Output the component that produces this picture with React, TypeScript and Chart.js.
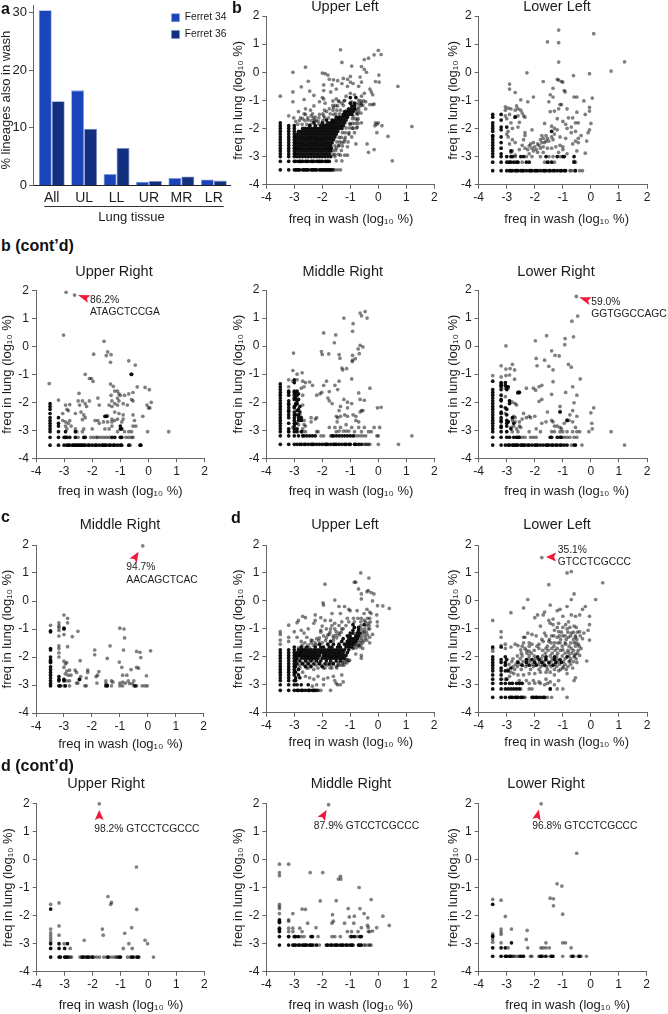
import { useEffect, useRef } from 'react';
import { Chart, registerables } from 'chart.js';

Chart.register(...registerables);

const FONT = '"Liberation Sans", Arial, sans-serif';
Chart.defaults.font.family = FONT;

// ---------- Panel a ----------
const tissueLabels = ['All', 'UL', 'LL', 'UR', 'MR', 'LR'];
const ferret34 = [30.4, 16.5, 2, 0.65, 1.3, 1.05];
const ferret36 = [14.6, 9.85, 6.5, 0.8, 1.55, 0.85];

// Data format: *Spots = [x, y] points; *Lines = [y, x, x, ...] light rows; *Dense = [y, x, x, ...] rows of overlapped lineages.
// ---------- b Upper Left ----------
const bUpperLeftSpots = [[-1.35,.8],[0,.78],[.1,.63],[-.15,.62],[-.35,.5],[-.5,.45],[-1.3,.35],[-.95,.22],[-.6,.2],[-.5,.1],[-.42,0],[-2.6,.18],[-3.05,0],[-2,-.03],[-1.9,-.05],[-1.8,-.1],[.02,-.1],[-1,-.15],[-.65,-.17],[-2.5,-.32],[-1.75,-.25],[-1.6,-.27],[-1.45,-.3],[-1.25,-.22],[-1.1,-.25],[-.1,-.33],[.03,-.35],[-.6,-.35],[-2.75,-.52],[-1.95,-.45],[-1.65,-.45],[-1.3,-.4],[-1,-.35],[-.9,-.4],[.7,-.5],[-3.05,-.7],[-2.45,-.67],[-1.95,-.65],[-1.7,-.7],[-1.5,-.6],[-1.1,-.5],[-.7,-.5],[-.3,-.6],[-.25,-.7],[-2.3,-.82],[-2,-.9],[-1.95,-.95],[-2.65,-.97],[-3.05,-1.05],[-1.5,-.95],[-.85,-.8],[-.6,-.85],[-.5,-.75],[-.2,-.8],[-3.5,-.85],[-2.6,-1.3],[-2.3,-1.2],[-2.1,-1.05],[-1.9,-1.1],[-1.4,-1.05],[-1.3,-1.1],[-.7,-1],[-.45,-1.05],[-.3,-1.15],[-.2,-1.15],[-.15,-1.13],[-3.2,-1.55],[-2.85,-1.4],[-2.6,-1.5],[-2.4,-1.55],[-1.75,-1.3],[-1.6,-1.25],[-2.1,-1.5],[-.8,-1.3],[-.7,-1.25],[-.45,-1.3],[-.1,-1.8],[-.05,-1.85],[0,-1.8],[-.12,-1.9],[.13,-1.9],[1.2,-1.93],[-.05,-2.15],[.35,-2.28],[-.95,-2.3],[-.4,-2.55],[-1.1,-2.65],[-.8,-2.55],[-.35,-2.85],[-.15,-2.75],[.5,-3.15],[-1.35,-2.95],[-1.2,-2.95],[-1.1,-2.95],[-1.3,-3.15],[-1.55,-3],[-1.5,-3.15],[-.9,-2],[-.75,-1.95],[-.6,-1.8],[-.75,-1.7],[-1,-1.85],[-1.2,-2.4],[-1.3,-2.5],[-1.4,-2.6],[-1.5,-2.7],[-1.05,-2.2],[-2.95,-1.75],[-2.7,-1.65],[-2.5,-1.7],[-2.25,-1.6],[-2.15,-1.75],[-1.95,-1.55],[-1.85,-1.4],[-1.6,-1.5],[-1.45,-1.2],[-1.2,-1],[-1.15,-.85],[-1,-.75],[-.95,-1.05],[-.6,-1.1],[-.75,-1.5],[-.9,-1.55],[-.7,-1.35]];
const bUpperLeftLines = [[-3.47,-1.6,-1.55,-1.45,-1.35],[-1.85,-2.88,-2.72,-2.55,-2.42,-2.12,-1.88],[-1.72,-2.82,-2.62,-2.38,-2.28,-2.22,-1.98,-1.62],[-1.62,-3.02,-2.78,-2.52,-2.32,-2.12,-1.92,-1.78,-1.42],[-1.48,-2.65,-2.35,-1.98,-1.72,-1.52,-1.38,-1.22],[-1.35,-2.42,-1.92,-1.62,-1.48,-1.35,-1.12,-.82],[-1.18,-1.62,-1.52,-1.25,-.62,-.55],[-1.02,-1.62,-1.42,-1.22,-.62,-.52],[-2.92,-1.62,-1.55,-1.42],[-2.78,-1.62,-1.52,-1.32],[-2.62,-1.55,-1.42,-1.28],[-2.48,-1.48,-1.38,-1.22,-1.08],[-2.32,-1.4,-1.32,-1.18],[-2.15,-1.28,-1.18,-1.05,-.85],[-1.98,-1.15,-1.02,-.92,-.78],[-1.82,-1.02,-.92,-.82,-.72],[-1.65,-.92,-.82,-.72],[-1.45,-.78,-.72,-.62],[-1.12,-.75,-.65]];
const bUpperLeftDense = [[-3.47,-3.5,-3.2,-3,-2.95,-2.9,-2.85,-2.8,-2.7,-2.65,-2.6,-2.55,-2.5,-2.4,-2.35,-2.3,-2.25,-2.2,-2.1,-2.05,-2,-1.95,-1.9,-1.85,-1.8,-1.75,-1.7,-1.65],[-3.17,-3.5,-3.2,-3,-2.95,-2.85,-2.8,-2.75,-2.7,-2.6,-2.55,-2.5,-2.4,-2.35,-2.3,-2.2,-2.15,-2.1,-2.05,-2,-1.9,-1.85,-1.8,-1.75],[-3,-3.5,-3.2,-3,-2.9,-2.8,-2.7,-2.6,-2.5,-2.4,-2.3,-2.2,-2.1,-2,-1.9,-1.8,-1.7],[-2.9,-3.5,-3.2,-3,-2.95,-2.85,-2.75,-2.65,-2.55,-2.45,-2.35,-2.25,-2.15,-2.05,-1.95,-1.85,-1.75],[-2.8,-3.5,-3.2,-3,-2.9,-2.8,-2.7,-2.6,-2.5,-2.4,-2.3,-2.2,-2.1,-2,-1.9,-1.8,-1.7],[-2.7,-3.5,-3.2,-3,-2.95,-2.85,-2.75,-2.65,-2.55,-2.45,-2.35,-2.25,-2.15,-2.05,-1.95,-1.85,-1.75,-1.68],[-2.6,-3.5,-3.2,-3,-2.9,-2.8,-2.7,-2.6,-2.5,-2.4,-2.3,-2.2,-2.1,-2,-1.9,-1.8,-1.7],[-2.5,-3.5,-3.2,-3,-2.95,-2.85,-2.75,-2.65,-2.55,-2.45,-2.35,-2.25,-2.15,-2.05,-1.95,-1.85,-1.75,-1.65],[-2.4,-3.5,-3.2,-3,-2.9,-2.8,-2.7,-2.6,-2.5,-2.4,-2.3,-2.2,-2.1,-2,-1.9,-1.8,-1.7,-1.6],[-2.3,-3.5,-3.2,-3,-2.95,-2.85,-2.75,-2.65,-2.55,-2.45,-2.35,-2.25,-2.15,-2.05,-1.95,-1.85,-1.75,-1.65,-1.55],[-2.2,-3.5,-3.2,-3,-2.9,-2.8,-2.7,-2.6,-2.5,-2.4,-2.3,-2.2,-2.1,-2,-1.9,-1.8,-1.7,-1.6,-1.5],[-2.1,-3.5,-3.2,-3,-2.85,-2.75,-2.65,-2.55,-2.45,-2.35,-2.25,-2.15,-2.05,-1.95,-1.85,-1.75,-1.65,-1.55,-1.45],[-2,-3.5,-3.2,-3,-2.7,-2.6,-2.5,-2.4,-2.3,-2.2,-2.1,-2,-1.9,-1.8,-1.7,-1.6,-1.5,-1.4,-1.3],[-1.9,-3.5,-3.2,-3,-2.45,-2.25,-2.05,-1.95,-1.85,-1.75,-1.65,-1.55,-1.45,-1.35,-1.25],[-1.8,-3.5,-2.3,-2,-1.8,-1.7,-1.6,-1.5,-1.4,-1.3,-1.2],[-1.7,-1.85,-1.65,-1.55,-1.45,-1.35,-1.25,-1.15],[-1.6,-1.5,-1.4,-1.3,-1.2,-1.1],[-1.5,-1.25,-1.15,-1.05,-.95],[-1.4,-1.2,-1.1,-1,-.9],[-1.3,-1.05,-.95,-.85],[-1.2,-.95,-.85],[-1.1,-1,-.85],[-.9,-1,-.8]];

// ---------- b Lower Left ----------
const bLowerLeftSpots = [[-1.15,1.5],[-1.55,1.08],[-1.15,1.05],[.1,1.37],[1.2,.37],[.72,.04],[-1.15,.36],[-.05,-.05],[-2.28,-.02],[-.62,-.12],[-1.2,-.25],[-1.15,-.28],[-1.05,-.33],[-1,-.35],[-1.7,-.33],[-2.9,-.42],[-2.9,-.6],[-2.7,-.72],[-1.35,-.57],[-.95,-.65],[-.92,-.7],[-1.45,-.8],[-1.35,-.88],[-2.05,-.88],[-2.5,-.98],[-2.25,-1.05],[-1.5,-1.05],[-.6,-.88],[-.5,-.88],[.05,-.92],[-.25,-1.02],[-1.1,-1.15],[-2.65,-1.2],[-3.05,-1.23],[-2.95,-1.28],[-2.85,-1.3],[-3.05,-1.35],[-2.7,-1.35],[-2.6,-1.3],[-2.5,-1.35],[-1.45,-1.4],[-1.3,-1.38],[-1.15,-1.3],[-1.05,-1.15],[-.85,-1.3],[-.5,-1.42],[-.05,-1.25],[-.05,-1.38],[-.2,-1.5],[-3.05,-1.55],[-2.9,-1.5],[-2.7,-1.58],[-2.6,-1.55],[-2.45,-1.45],[-2.4,-1.55],[-3,-1.65],[-2.35,-1.6],[-.8,-1.62],[-.65,-1.62],[-.55,-1.8],[-.45,-1.8],[0,-1.82],[-.9,-1.85],[-1.65,-1.82],[-1.2,-1.65],[-1,-1.75],[-1.4,-1.92],[-1.3,-2],[-1.2,-2.05],[-.85,-2],[-.7,-1.95],[-.05,-2.05],[-.1,-2.15],[-2.55,-1.78],[-2.85,-1.8],[-2.6,-1.95],[-2.8,-2],[-2.1,-2.05],[-2.35,-2.15],[-2.95,-2.1],[-3,-2.2],[-2.95,-2.3],[-2.8,-2.4],[-2.7,-2.5],[-2.9,-2.55],[-2.35,-2.25],[-2.4,-2.4],[-2.45,-2.6],[-2.35,-2.7],[-2.25,-2.75],[-2.15,-2.55],[-2.05,-2.5],[-2,-2.65],[-1.95,-2.75],[-1.85,-2.6],[-1.8,-2.4],[-1.75,-2.25],[-1.7,-2.35],[-1.65,-2.5],[-1.6,-2.25],[-1.55,-2.35],[-1.5,-2.45],[-1.4,-2.3],[-1.35,-2.4],[-1.3,-2.2],[-1.1,-2.3],[-1.25,-2.65],[-1.4,-2.7],[-1.55,-2.7],[-1.1,-2.6],[-1,-2.65],[-1.15,-2.85],[-1,-2.75],[-.9,-2.35],[-.85,-2.9],[-.7,-2.15],[-.55,-2.1],[-.45,-2.5],[-.35,-2.25],[-.45,-2.35],[-.55,-2.45],[-.2,-2.88],[-.15,-2.45],[-.65,-2.55],[-.5,-2.8],[-.6,-3.17],[-.6,-3.5],[-.4,-3.5],[-.3,-3.5],[-2.85,-2.85],[-2.8,-2.8],[-2.7,-2.95],[-2.55,-2.75],[-2.2,-2.9],[-2.05,-2.8],[-1.9,-2.85],[-1.7,-2.85],[-1.5,-3],[-2.2,-2.62],[-2.1,-2.7],[-1.9,-2.55],[-1.75,-2.5],[-1.7,-2.65],[-1.6,-2.45],[-1.8,-2.7]];
const bLowerLeftLines = [[-3.5,-.75,-.7],[-3.2,-2.95,-2.45,-1.65,-1.5,-1.3,-.55],[-3,-2.7,-2.3,-2.1,-1.8,-1.35,-1.1]];
const bLowerLeftDense = [[-3.5,-3.5,-3.2,-3,-2.9,-2.85,-2.8,-2.7,-2.65,-2.6,-2.5,-2.45,-2.4,-2.3,-2.2,-2.15,-2.1,-2,-1.95,-1.9,-1.8,-1.7,-1.65,-1.6,-1.5,-1.45,-1.35,-1.3,-1.2,-1.1,-1.05,-.95,-.9,-.55],[-3.2,-3.5,-3.2,-3,-2.9,-2.85,-2.75,-2.65,-2.6,-2.3,-2.2,-1.55,-1.4,-.6],[-3,-3.5,-3.2,-3,-2.85,-2.8,-2.5,-2.4,-1.6,-1.2,-1,-.95,-.6],[-2.9,-3.5,-3.2],[-2.8,-3.5,-2.85],[-2.7,-3.5,-3.2],[-2.6,-3.5],[-2.5,-3.5,-3.2],[-2.4,-3.5],[-2.3,-3.5,-3.2],[-2.25,-3.5],[-2.1,-3.5,-1.4],[-2.05,-3.2],[-2,-3.5],[-1.95,-3.2,-3],[-1.9,-3.5],[-1.8,-3.5],[-1.7,-3.2],[-1.6,-3.5,-2.7],[-1.5,-3.5,-3.2]];

// ---------- b (cont'd) Upper Right ----------
const bUpperRightSpots = [[-2.93,1.93],[-2.63,1.83],[-3.02,.4],[-1.58,.18],[-1.45,-.2],[-1.5,-.33],[-1.33,-.3],[-1.95,-.28],[-1.35,-.57],[-.7,-.52],[-.47,-.67],[-.6,-1],[-.62,-1],[-2.25,-1],[-2.1,-1.15],[-2.03,-1.15],[-1.97,-1.25],[-3.53,-1.33],[-1.35,-1.35],[-1.25,-1.43],[-.4,-1.45],[-.12,-1.47],[.03,-1.55],[-.55,-1.65],[-1.2,-1.6],[-1.1,-1.6],[-1.05,-1.7],[-.7,-1.7],[-2.47,-1.68],[-1.33,-1.75],[-1,-1.75],[-.85,-1.75],[-3.2,-1.92],[-1.8,-1.85],[-2.5,-1.95],[-2.35,-1.95],[-2.1,-1.95],[-1.1,-1.85],[-1.05,-1.95],[-.6,-1.9],[-.55,-1.95],[-1.3,-1.95],[.1,-2],[-2.95,-2.1],[-2.8,-2.08],[-2.45,-2.1],[-2.25,-2.05],[-2.2,-2.15],[-1.75,-2.1],[-1.4,-2.1],[-1.3,-2.15],[-1.2,-2.05],[-1.1,-2.1],[-.9,-2.05],[-.75,-2.1],[-.05,-2.1],[0,-2.2],[.05,-2.2],[-2.9,-2.25],[-2.85,-2.3],[-3.05,-2.4],[-2.6,-2.4],[-2.4,-2.35],[-2.3,-2.45],[-1.5,-2.5],[-1.45,-2.48],[-1.2,-2.35],[-1.05,-2.4],[-.9,-2.45],[-.55,-2.45],[-.2,-2.5],[-2.35,-2.62],[-2.25,-2.55],[-1.9,-2.65],[-1.8,-2.65],[-1.3,-2.6],[-1.2,-2.65],[-1.1,-2.6],[-.9,-2.6],[-3.05,-2.65],[-2.95,-2.7],[-2.85,-2.75],[-2.8,-2.65],[-1.75,-2.75],[-1.6,-2.7],[-1.45,-2.7],[-1.3,-2.7],[-.95,-2.7],[-.5,-2.65],[-2.95,-2.85],[-2.9,-2.95],[-2.75,-2.85],[-2.6,-2.95],[-2.3,-2.95],[-2,-2.95],[-1.55,-2.95],[-1.4,-2.95],[-1.3,-2.85],[-.55,-2.85],[-.45,-2.85],[-1.1,-3.05],[-.85,-3.05],[-.7,-3.05],[.72,-3.05],[-.6,-3.05],[-.03,-3.05],[-2.55,-3.05],[-2.35,-3.05]];
const bUpperRightLines = [[-3.25,-2.5,-2.05,-1.95,-1.85,-1.8,-1.7,-1.6,-1.5,-1.4,-.8,-.7,-.6,-.55],[-3.53,-.65]];
const bUpperRightDense = [[-3.53,-3.5,-3.2,-3,-2.9,-2.85,-2.8,-2.7,-2.65,-2.6,-2.55,-2.5,-2.45,-2.4,-2.35,-2.3,-2.25,-2.15,-2.1,-2,-1.9,-1.85,-1.75,-1.65,-1.6,-1.55,-1.5,-1.4,-1.35,-1.25,-1.2,-1.1,-1,-.95,-.7,-.3,-.27],[-3.25,-3.5,-3.2,-3,-2.95,-2.9,-2.8,-2.6,-2.3,-2.25,-1.3,-1.2,-1,-.95],[-3.05,-3.5,-3.2,-2.95,-2.6],[-2.95,-3.5,-1,-.95],[-2.85,-3.5,-3.2,-1],[-2.75,-3.5,-3.2],[-2.65,-3.5],[-2.55,-3.5,-3.2],[-2.4,-3.5],[-2.25,-3.5],[-2.15,-3.5],[-2.05,-3.5],[-2.5,-1.55,-1.5],[-1,-.6]];

// ---------- b (cont'd) Middle Right ----------
const bMiddleRightSpots = [[-.65,1.18],[-.6,1.08],[-.47,1.23],[-.4,1],[-1.23,1],[-.9,.8],[-.92,.53],[-1.95,.47],[-1.52,.4],[-1.57,.12],[-.65,.03],[-.55,-.03],[-.72,-.1],[-2.03,-.2],[-2,-.3],[-1.77,-.28],[-.68,-.27],[-1.4,-.3],[-1.37,-.43],[-.92,-.33],[-.82,-.45],[-.92,-.5],[-.93,-.55],[-3.03,-.25],[-1.3,-.78],[-1.27,-.85],[-1.13,-.8],[-3.05,-.87],[-2.72,-.95],[-2.9,-1],[-.95,-1.17],[-3.2,-1.2],[-3.05,-1.25],[-2.9,-1.2],[-2.7,-1.25],[-2.6,-1.3],[-2.45,-1.28],[-2.35,-1.4],[-1.85,-1.25],[-1.95,-1.4],[-1.55,-1.4],[-1.4,-1.25],[-.3,-1.5],[-1.45,-1.55],[-1.75,-1.62],[-2.02,-1.65],[-2.08,-1.7],[-2.2,-1.75],[-.7,-1.67],[-3.2,-1.45],[-2.75,-1.5],[-2.65,-1.45],[-2.7,-1.75],[-1.8,-1.85],[-1.75,-1.95],[-1.65,-2.05],[-1.23,-1.9],[-1.1,-2],[-1.1,-2.2],[-.95,-2.05],[-.65,-1.9],[-.5,-1.93],[-1.35,-2.15],[-1.4,-2.3],[-2.7,-2.1],[.1,-2.18],[-.03,-2.2],[-.6,-2.3],[-.55,-2.3],[-.65,-2.35],[-1.5,-2.5],[-1.45,-2.55],[-1.35,-2.5],[-1.2,-2.45],[-1.1,-2.5],[-.9,-2.45],[-.8,-2.5],[-2.4,-2.55],[-2.25,-2.6],[-2.2,-2.55],[-2.4,-2.7],[-1.47,-2.7],[-.8,-2.65],[-.7,-2.7],[-1.55,-2.9],[-1.75,-2.9],[-1.35,-2.9],[-1.15,-2.8],[-.95,-2.9],[-.7,-2.9],[-.5,-2.9],[-.15,-2.9],[.05,-2.9],[-2.2,-3.05],[-2.15,-3.05],[-1.5,-3.05],[-1.4,-3.03],[-1.25,-3.03],[-1.15,-3.03],[-1.05,-3.03],[-.85,-3.05],[-.6,-3.05],[-.35,-3.05],[-.25,-3.05],[-.05,-3.2],[0,-3.2],[1.2,-3.2],[.72,-3.5],[0,-3.5],[-.45,-3.2],[-1.95,-3.2],[-.3,-3.5],[-.35,-3.5],[-2.9,-2.75],[-2.85,-2.8],[-2.7,-2.95],[-2.6,-2.85],[-2.65,-2.65],[-2.8,-2.45],[-3.05,-2.9],[-3.2,-3.05],[-2.7,-3.05],[-2.6,-3.05],[-2.65,-2.8]];
const bMiddleRightLines = [[-3.2,-2.05,-1.7,-.85,-.75,-.65,-.55],[-3.5,-.5,-.45,-.4]];
const bMiddleRightDense = [[-3.5,-3.5,-3.2,-3,-2.9,-2.8,-2.75,-2.65,-2.6,-2.5,-2.4,-2.35,-2.3,-2.2,-2.1,-2,-1.9,-1.85,-1.8,-1.7,-1.6,-1.55,-1.5,-1.4,-1.3,-1.2,-1.15,-1.05,-1,-.85,-.8,-.7,-.6],[-3.2,-3.5,-3.2,-3,-2.85,-2.7,-2.65,-2.55,-2.45,-2.35,-2.25,-1.65,-1.6,-1.5,-1.4,-1.3,-1.2,-1.1,-1,-.9],[-3.05,-3.5,-3.2,-3,-2.9,-2.75],[-2.95,-3.5,-3.2,-3,-2.9],[-2.85,-3.5,-3],[-2.75,-3.5,-3.2,-3,-2.95],[-2.65,-3.5,-3,-2.85,-2.75],[-2.55,-3.5,-3.2,-3,-2.85,-2.75],[-2.45,-3.5,-3.2,-3,-2.95,-2.85],[-2.35,-3.5,-3.2,-3,-2.8],[-2.3,-3.2,-2.9],[-2.25,-3.5,-2.85],[-2.2,-3.2,-3],[-2.15,-3.5,-3,-2.8],[-2.1,-3.2,-2.95],[-2.05,-3.5,-3.2,-2.95,-2.9],[-1.95,-3.5,-3.2,-2.9],[-1.9,-3,-2.85],[-1.85,-3.5,-3,-2.95],[-1.75,-3.5,-3.2,-3,-2.9],[-1.7,-2.85],[-1.65,-3.5,-3.2,-3,-2.95],[-1.6,-3.2,-3,-2.9],[-1.55,-3.5],[-1.45,-3.5],[-1.35,-3.5],[-1.3,-3],[-1.2,-3]];

// ---------- b (cont'd) Lower Right ----------
const bLowerRightSpots = [[-.52,1.77],[-.47,1.07],[-.68,.89],[-.62,.33],[-.92,.27],[-.93,.05],[-1.98,.19],[-1.58,.37],[-3.03,.01],[-1.4,-.17],[-1.28,-.33],[-1.13,-.35],[-1.95,-.44],[-1.65,-.5],[-1.5,-.72],[-1.35,-.85],[-.8,-.65],[-.7,-.75],[-1.92,-.7],[-3.2,-.7],[-3.03,-.82],[-2.88,-.8],[-2.8,-.65],[-2.72,-.85],[-.38,-1.17],[-1.35,-1.27],[-3.5,-1.05],[-3.03,-1.05],[-2.9,-1.03],[-2.72,-1.18],[-3.2,-1.1],[-2.3,-1.5],[-2.05,-1.5],[-1.97,-1.57],[-1.85,-1.45],[-1.75,-1.4],[-.65,-1.45],[-3.05,-1.5],[-2.95,-1.5],[-2.55,-1.65],[-2.6,-1.68],[-1.4,-1.72],[-.9,-1.65],[-.5,-1.75],[-1.85,-1.97],[-1.75,-1.9],[-3.05,-1.8],[-2.9,-1.95],[-2.8,-2],[-2.7,-2.05],[-2.65,-2.1],[-1.1,-2.15],[-.6,-2.02],[.1,-2.2],[0,-2.38],[-.65,-2.3],[-1.55,-2.35],[-1.1,-2.33],[-2.4,-2.4],[-2.2,-2.5],[-2.15,-2.55],[-2,-2.5],[-2.3,-2.55],[-2.55,-2.7],[-2.45,-2.6],[-2.75,-2.5],[-2.7,-2.55],[-3.05,-2.4],[-.75,-2.45],[-.5,-2.5],[-1.4,-2.65],[-1.35,-2.7],[-1.6,-2.7],[-1.75,-2.75],[-1.3,-2.85],[-1.2,-2.85],[-1.1,-2.9],[-1.05,-2.95],[-.95,-2.75],[-.85,-2.65],[-.78,-2.65],[-.65,-2.7],[-.55,-2.9],[-2.95,-2.7],[-2.8,-2.65],[-2.7,-2.7],[-2.55,-2.85],[-2.5,-2.9],[-2.2,-3.05],[-1.95,-2.95],[-1.8,-3.05],[-1.4,-3.05],[-1.3,-3.05],[-1.1,-3.05],[-1,-3.05],[-.85,-3.05],[-.65,-3.05],[-.5,-3.05],[-.4,-3.05],[-.07,-3.05],[.05,-2.95],[.03,-2.75],[.72,-3.05],[1.2,-3.53],[-.32,-3.53],[-.6,-3.25],[-2.85,-2.9],[-2.75,-2.85],[-2.65,-2.95],[-2.6,-3.05],[-2.8,-3.05]];
const bLowerRightLines = [[-3.25,-2.45,-2.35,-2.15,-2.05,-1.95,-.95,-.85,-.75,-.5],[-3.53,-.7]];
const bLowerRightDense = [[-3.53,-3.5,-3.2,-3.05,-2.95,-2.9,-2.8,-2.75,-2.7,-2.65,-2.6,-2.5,-2.45,-2.4,-2.35,-2.25,-2.2,-2.1,-2,-1.95,-1.9,-1.8,-1.7,-1.6,-1.55,-1.5,-1.4,-1.35,-1.25,-1.2,-1.1,-1.05,-.95,-.85,-.6,-.55],[-3.25,-3.5,-3.2,-3,-2.9,-2.75,-2.65,-2.6,-2.55,-1.45,-1.4,-1.2,-1.1,-1.05],[-3.05,-3.5,-3.2,-3],[-2.95,-3.5,-2.85],[-2.9,-3.2],[-2.85,-3.5,-3.2,-3],[-2.75,-3.5,-3,-2.75],[-2.7,-3.2,-2.95],[-2.65,-3.5,-3.2,-3],[-2.55,-3.5,-3.2,-2.8],[-2.45,-3.5,-3],[-2.4,-3.2],[-2.35,-3.5,-3.2],[-2.25,-3.5,-3],[-2.2,-3.05],[-2.15,-3.5,-3.2],[-2.05,-3.5,-2.9],[-1.95,-3.5,-3.2,-2.9],[-1.9,-3.2],[-1.85,-3.5],[-1.75,-3.5,-3.2],[-1.65,-3.5,-2.6,-2.55],[-1.55,-3.5,-3.2,-3],[-1.45,-3.2,-3,-2.95],[-1.4,-3.2,-3.05],[-1.35,-3.2],[-1.3,-3.2,-3.05],[-1.25,-3.5],[-2.35,-1.1],[-2.65,-.85]];

// ---------- c Middle Right ----------
const cMiddleRightSpots = [[-.18,1.97],[-3,-.5],[-2.87,-.62],[-2.87,-.78],[-3.18,-.78],[-3.18,-.88],[-3.48,-.87],[-3.18,-.95],[-3.18,-1.05],[-2.5,-1.08],[-1,-.97],[-.85,-1],[-.83,-1.32],[-3,-1.2],[-3.18,-1.25],[-2.7,-1.27],[-1.35,-1.6],[-2.87,-1.63],[-3.18,-1.6],[-3.18,-1.7],[-3.18,-1.85],[-3.18,-2],[-1.9,-1.75],[-1.9,-1.92],[-.87,-1.75],[-.4,-1.8],[-.28,-1.83],[.1,-1.78],[-.25,-2.02],[-1.45,-2.05],[-2.42,-2.13],[-3,-2.15],[-2.95,-2.25],[-2.9,-2.2],[-1.02,-2.18],[-.93,-2.37],[-.4,-2.37],[-.33,-2.4],[-.6,-2.45],[-3,-2.37],[-2.9,-2.5],[-2.8,-2.47],[-2.6,-2.47],[-2.55,-2.55],[-2.15,-2.47],[-2.15,-2.55],[-1.75,-2.52],[-1.8,-2.65],[-1.85,-2.7],[-.9,-2.65],[-.75,-2.65],[-.05,-2.67],[-2.95,-2.6],[-2.85,-2.65],[-2.75,-2.65],[-2.4,-2.7],[-2.43,-2.8],[-2.2,-2.75],[-1.5,-2.85],[-1.3,-2.85],[-1.25,-2.9],[-2.9,-2.85],[-2.8,-2.85],[-2.55,-2.93],[-2.5,-2.93],[-1.82,-2.93],[-1.5,-2.95],[-1.45,-3],[-1,-2.93],[-.9,-2.9],[-.8,-2.93],[-.7,-2.85],[-.65,-2.95],[-.5,-2.85],[-.55,-2.95]];
const cMiddleRightLines = [[-3.03,-3,-2.8,-2.25,-2.2,-1.3,-1,-.9,-.5,-.4,-.2,-.1,-.02]];
const cMiddleRightDense = [[-3.03,-3.48,-3.18,-3.13,-2.95,-1.5,-1.45,-.45],[-2.95,-3.48],[-2.85,-3.48,-3.18,-3],[-2.75,-3.48],[-2.8,-3.18,-3,-2.45],[-2.65,-3.48],[-2.7,-3.18],[-2.55,-3.48],[-2.45,-3.48],[-2.35,-3.48],[-2.2,-3.48],[-2.15,-3.48],[-2.1,-3.48],[-2,-3.48],[-1.75,-3.48],[-1.7,-3.48],[-1.1,-3.48],[-1.07,-3.48],[-1,-3],[-.97,-3]];

// ---------- d Upper Left ----------
const dUpperLeftSpots = [[-.62,1],[-.33,.82],[-.85,.67],[-.8,.67],[-1.9,.6],[-.7,.43],[-.6,.25],[-.4,.33],[-.35,.37],[-.25,.3],[-.15,.25],[-1.55,.03],[-.2,0],[-.6,.07],[-1.97,-.07],[-1.95,-.15],[-1.4,-.2],[-1.2,-.2],[-.02,-.17],[.4,-.27],[.17,-.18],[-1.05,-.3],[-1,-.35],[-.75,-.35],[-.4,-.3],[-.3,-.4],[-.25,-.45],[-.5,-.45],[-1.35,-.45],[-1.65,-.45],[-2.25,-.5],[-2.05,-.6],[-1.9,-.7],[-1.7,-.7],[-2.7,-.55],[-2.85,-.7],[-2.9,-.78],[-2.6,-.6],[-3.2,-.87],[-2.25,-.7],[-1.55,-.8],[-1.3,-.75],[-.05,-.5],[-.03,-.75],[-2.3,-.8],[-2,-.9],[-1.85,-1],[-1.7,-1],[-.03,-.9],[-2.05,-1.05],[-1.5,-1.1],[-.3,-1],[-.2,-1.2],[-.3,-1.3],[-.3,-1.5],[-.4,-1.4],[-3,-1.1],[-2.5,-1],[-2.65,-1.15],[-2.75,-1.05],[-2.55,-1.3],[-2.75,-1.45],[-2.9,-1.3],[-2.4,-1.4],[-2.2,-1.35],[-1.95,-1.25],[-1.6,-1.25],[-3.2,-1.3],[-3.2,-1.45],[-3.5,-1.1],[-3.5,-1.2],[-3.5,-1.4],[-3.5,-1.55],[-.6,-1.95],[-.6,-2.05],[-.8,-1.9],[-.9,-1.7],[-.65,-1.65],[-.55,-1.7],[-1.1,-2.1],[-1.05,-2.15],[-1.2,-2.2],[-1.3,-2.3],[-1.4,-2.3],[-1.5,-2.35],[-1.65,-2.4],[-1.9,-2.4],[-2.3,-2.45],[-2.5,-2.4],[-2.8,-2.4],[-2.7,-2.55],[-2.6,-2.7],[-2.45,-2.75],[-2.3,-2.8],[-2.15,-2.7],[-1.95,-2.8],[-1.8,-2.75],[-1.6,-2.7],[-1.55,-2.85],[-1.3,-2.65],[-1.25,-2.9],[-1.35,-3],[-1.45,-3],[-1.5,-2.95],[-1.7,-3.2],[-1.95,-3],[-2.2,-3],[-2.35,-3.05],[-2.15,-3.2],[-2.05,-3.2],[-1.75,-1.2],[-1.4,-1.15],[-1.3,-1],[-.5,-.7],[-.35,-.8],[-.5,-1.1],[-.7,-1.6],[-.85,-1.55]];
const dUpperLeftLines = [[-3.2,-2.2,-2.15],[-2.4,-2.55,-2.15,-1.95,-1.72,-1.48],[-2.3,-2.8,-2.62,-2.42,-2.22,-2.02,-1.82,-1.68,-1.45,-1.22],[-2.22,-2.72,-2.52,-2.12,-1.62,-1.42,-1.28,-1.12],[-2.12,-2.9,-2.5,-2.3,-1.25,-1.12,-1.02],[-1.68,-2.85,-2.62,-2.45,-.88,-.78],[-1.58,-2.72,-2.5,-2.32,-2.22,-.82,-.72,-.62],[-1.5,-2.62,-2.4,-2.25,-2,-.78,-.65,-.55],[-1.42,-2.35,-2.12,-1.88,-1.6,-.72,-.6,-.5],[-1.32,-2.1,-1.85,-1.6,-1.48,-.68,-.58,-.45],[-1.22,-1.8,-1.5,-1.38,-.6,-.48,-.38],[-1.12,-2.05,-1.72,-1.32,-.55,-.42],[-1,-1.55,-1.25,-.6,-.48,-.35],[-.88,-1.65,-1.4,-1.15,-.62,-.42,-.32],[-.75,-1.05,-.85,-.62,-.45,-.28],[-.62,-1.1,-.88,-.72,-.6,-.38,-.3]];
const dUpperLeftDense = [[-3.2,-3.5,-3.2,-3,-2.9,-2.85,-2.75,-2.7,-2.6,-2.5,-2.45,-2.35,-2.3,-2.25],[-3,-3.5,-3.2,-3,-2.9,-2.75,-2.5],[-2.85,-3.5,-3.2,-3,-2.95],[-2.75,-3.5,-3.2,-2.95,-2.8],[-2.65,-3.5,-3.2,-3,-2.85],[-2.55,-3.5,-3.2,-3,-2.95],[-2.45,-3.5,-3.2,-3,-2.85],[-2.35,-3.5,-3.2,-3,-2.95,-2.6,-2.4,-2],[-2.25,-3.5,-3.2,-3,-2.9,-2.7,-2.5,-2.3,-2.1,-1.9,-1.75,-1.6],[-2.15,-3.5,-3.2,-3,-2.95,-2.8,-2.6,-2.4,-2.2,-2.05,-1.85,-1.7,-1.5,-1.35],[-2.05,-3.5,-3.2,-3,-2.9,-2.75,-2.65,-2.55,-2.45,-2.35,-2.25,-2.15,-2,-1.9,-1.8,-1.7,-1.6,-1.5,-1.4,-1.3,-1.2],[-1.95,-3.5,-3.2,-3,-2.95,-2.85,-2.8,-2.7,-2.6,-2.5,-2.4,-2.3,-2.2,-2.1,-1.95,-1.85,-1.75,-1.65,-1.55,-1.45,-1.35,-1.25,-1.15],[-1.85,-3.5,-3.2,-3,-2.9,-2.8,-2.75,-2.65,-2.55,-2.45,-2.35,-2.25,-2.15,-2.05,-1.95,-1.85,-1.75,-1.65,-1.55,-1.45,-1.35,-1.25,-1.1],[-1.75,-3.5,-3.2,-3,-2.85,-2.75,-2.7,-2.6,-2.5,-2.4,-2.3,-2.2,-2.1,-2,-1.9,-1.8,-1.7,-1.6,-1.5,-1.4,-1.3,-1.2,-1.05],[-1.65,-3,-2.75,-2.55,-2.25,-2.05,-1.95,-1.75,-1.65,-1.45,-1.35,-1.15,-1.05,-.95],[-1.55,-2.1,-1.8,-1.6,-1.4,-1.2,-1.1,-1,-.9],[-1.45,-1.7,-1.3,-1.1,-1,-.9,-.8],[-1.35,-1.25,-1.05,-.95,-.85,-.75],[-1.25,-1.1,-1,-.8,-.7],[-1.15,-1,-.9,-.75,-.65],[-1.05,-.9,-.7],[-.95,-.85,-.7],[-.85,-.9,-.5]];

// ---------- d Lower Left ----------
const dLowerLeftSpots = [[-1.75,1.55],[-.85,1],[-.7,1.05],[-1.5,.58],[.42,.65],[-.6,.25],[-.7,.05],[.17,.05],[-2.25,.05],[-2.4,-.25],[-2.85,-.42],[-1.45,-.15],[-1.2,-.35],[-1.1,-.3],[-.85,-.2],[-.3,-.3],[-.2,-.2],[-.05,-.55],[-1.65,-.4],[-1.7,-.5],[-1.9,-.5],[-2,-.6],[-3.5,-.7],[-1.5,-.7],[-1.35,-.65],[-.7,-.5],[-.55,-.55],[-.4,-.5],[-1,-.55],[-.9,-.85],[-.05,-.85],[-1.8,-.9],[-1.45,-.8],[-1.35,-.85],[-1.15,-.8],[-.8,-.75],[-.6,-.9],[-.1,-1.05],[-3.2,-1.1],[-2.35,-1.3],[-2.25,-1.15],[-2.1,-1.2],[-1.95,-1.25],[-1.65,-1.15],[-1.6,-1.25],[-2.4,-1.3],[-3.2,-1.3],[-2.7,-1.55],[-2.6,-1.6],[-2.85,-1.65],[-3.05,-1.55],[-3.5,-1.7],[-3.5,-1.8],[-3.2,-1.6],[-3.05,-1.7],[-.05,-1.4],[-.15,-2.15],[-.5,-2.2],[-.4,-1.95],[-.55,-1.9],[-.25,-1.15],[-.3,-1.35],[-.4,-1.1],[-.55,-1.3],[-.7,-1.15],[-.85,-1],[-1,-.95],[-1.15,-1.1],[-1.3,-1.05],[-1.4,-1.25],[-1.2,-1.3],[-1,-1.25],[-.8,-1.3],[-.6,-1.5],[-.45,-1.55],[-.35,-1.7],[-.7,-1.7],[-.9,-1.55],[-1.1,-1.5],[-1.3,-1.5],[-1.5,-1.45],[-1.7,-1.45],[-1.85,-1.55],[-2.1,-1.55],[-2.35,-1.7],[-2.5,-1.75],[-2.2,-1.8],[-2.4,-1.5],[-1.85,-1.7],[-1.6,-1.7],[-1.4,-1.7],[-1.2,-1.7],[-1,-1.75],[-.8,-1.85],[-.6,-2],[-.75,-2.15],[-.65,-2.4],[-.55,-2.75],[-.6,-2.85],[-.85,-2.6],[-1,-2.4],[-1.15,-2.5],[-1.3,-2.65],[-1.45,-2.55],[-1.6,-2.55],[-1.8,-2.55],[-2,-2.6],[-2.2,-2.6],[-2.4,-2.65],[-2.6,-2.65],[-2.75,-2.6],[-2.9,-2.7],[-3.05,-2.8],[-2.85,-2.55],[-2.55,-2.85],[-2.3,-2.85],[-2.05,-2.85],[-1.85,-2.9],[-1.6,-2.8],[-1.45,-2.9],[-1.3,-3],[-1.15,-2.85],[-1,-3.15],[-1.2,-3.15],[-.85,-3.45],[-1.45,-3.15],[-1.65,-3]];
const dLowerLeftLines = [[-3.45,-2.4,-2.35,-2,-1.55,-1.4],[-3.15,-2.5,-2.2,-2.1],[-2.95,-2.2,-2,-1.8,-1.55],[-2.45,-2.95,-2.72,-2.48,-2.15,-1.85,-1.55,-1.3,-1.08,-.88],[-2.35,-2.78,-2.62,-2.32,-2.05,-1.78,-1.58,-1.42,-1.22,-.98,-.82],[-2.27,-2.92,-2.68,-2.52,-2.28,-2.08,-1.88,-1.72,-1.48,-1.28,-1.12,-.92,-.72],[-2.17,-2.82,-2.62,-2.42,-2.18,-2.02,-1.82,-1.68,-1.42,-1.18,-.98,-.78,-.62],[-2.07,-2.78,-2.52,-2.22,-1.98,-1.78,-1.62,-1.38,-1.22,-.92,-.72,-.52],[-1.97,-2.62,-2.45,-2.2,-2.02,-1.72,-1.45,-1.22,-1.02,-.78,-.58],[-1.87,-2.48,-2.28,-2.12,-1.62,-1.38,-1.18,-.92,-.68,-.48],[-1.77,-2.3,-2.02,-1.72,-1.52,-1.28,-1.08,-.82,-.62,-.45],[-1.62,-2.45,-2.2,-1.92,-1.55,-1.32,-1.02,-.78,-.55,-.42],[-1.5,-2.2,-1.42,-1.18,-.92,-.72,-.52],[-1.38,-1.75,-1.48,-1.08,-.88,-.62,-.5],[-1.25,-1.32,-1.12,-.92,-.72,-.55,-.38],[-1.12,-1.05,-.82,-.62,-.48],[-.95,-1.2,-.75,-.52]];
const dLowerLeftDense = [[-3.45,-3.5,-3.2,-3.05,-2.9,-2.85,-2.8,-2.7,-2.65,-2.6,-2.5,-2.45,-2.1,-2.05,-1.95,-1.9,-1.8,-1.7,-1.65],[-3.15,-3.5,-3.2,-3.05,-2.95,-2.85,-2.75,-2.65,-2.55,-1.45],[-2.95,-3.5,-3.2,-3.05,-2.9,-2.8,-2.65,-2.55,-2.45],[-2.8,-3.5,-3.2,-3],[-2.65,-3.5,-3.2],[-2.5,-3.5,-3.2,-3.05,-2.95],[-2.4,-3.5,-3.2,-2.85],[-2.3,-3.5,-3.05,-2.45,-2.2,-1.95,-1.65,-1.35],[-2.2,-3.5,-3.2,-3.05,-2.6,-2.3,-2,-1.75,-1.5,-1.25,-1.05],[-2.1,-3.5,-3.2,-3,-2.3,-2.1,-1.85,-1.6,-1.3,-1.1],[-2,-3.5,-3.05,-1.9,-1.6,-1.3,-.85],[-1.65,-3.5,-3.2]];

// ---------- d (cont'd) Upper Right ----------
const dUpperRightSpots = [[-1.76,1.98],[-.43,-.27],[-1.45,-1.32],[-1.32,-1.53],[-1.35,-1.6],[-.42,-1.78],[-3.5,-1.6],[-3.2,-1.55],[-3.2,-2.37],[-3.5,-2.48],[-1.65,-2.48],[-.6,-2.43],[-.85,-2.63],[-1.62,-2.7],[-3.5,-2.62],[-3.2,-2.7],[-3.5,-2.72],[-3.5,-2.82],[-2.3,-2.88],[-3.5,-2.92],[-.12,-2.88],[-.03,-3],[-.7,-3],[-3.02,-3],[-2.8,-3.17],[-.9,-3.17],[-.58,-3.17]];
const dUpperRightLines = [[-3.48,-2.85,-2.8,-2.75,-2.45,-2.4,-2.35,-2.3,-2.25,-2.1,-2.05,-1.95,-1.85,-1.75,-1.6,-1.5,-1.4,-1.3,-1.2,-1.15,-1.1,-.75,-.65,.18,-.45]];
const dUpperRightDense = [[-3.48,-3.5,-3.2,-3.15,-3,-2.95,-2.9,-2.35,-2.2,-2.15,-2,-1.45,-1.05,-1,-.6,-.55,-.4,-.35],[-3.17,-3.5,-3.2,-3],[-3,-3.5,-3.2,-2.9],[-1.77,-3.5]];

// ---------- d (cont'd) Middle Right ----------
const dMiddleRightSpots = [[-1.77,1.95],[-3.53,-.17],[-3.2,-.17],[-3.53,-.47],[-3.53,-.58],[-2.43,-.47],[-1.98,-.47],[-1.35,-.6],[-1.42,-.7],[-1.33,-.7],[-.68,-1],[-2.07,-1.48],[-1.5,-1.47],[-.25,-1.43],[-2.72,-1.77],[-2.6,-1.78],[-1.07,-1.75],[-.65,-1.75],[-3.05,-1.93],[-1.63,-1.97],[-.5,-1.93],[.17,-2.02],[-1.03,-2.05],[-.85,-2.02],[-.37,-2.08],[-3.2,-2.15],[-3.2,-2.2],[-1.6,-2.2],[-1.65,-2.27],[-2.52,-2.27],[-1.2,-2.27],[-.87,-2.27],[-.38,-2.35],[.4,-2.35],[-3.2,-2.45],[-3.05,-2.45],[-2.8,-2.45],[-2.22,-2.43],[-.6,-2.43],[-.35,-2.43],[-.05,-2.43],[-3.2,-2.57],[-3.05,-2.57],[-2.72,-2.57],[-1.1,-2.57],[-.95,-2.57],[-.72,-2.57],[-.35,-2.57],[-.3,-2.57],[-.2,-2.55],[-3.53,-1.6],[-3.53,-1.68],[-3.53,-1.75],[-3.53,-1.93]];
const dMiddleRightLines = [[-2.75,-3.2,-2.75,-2.65,-2.15,-1.65,-1.55,-1.35,-1,-.75],[-3.05,-2.28,-2.1,-.5,-.45,-.35,-.3,-.25]];
const dMiddleRightDense = [[-3.05,-3.53,-3.2,-3.05,-3,-2.95,-2.85,-2.8,-2.7,-2.65,-2.6,-2.55,-2.45,-2.4,-2.35,-2.2,-1.85,-1.8,-1.7,-1.65,-1.55,-1.5,-1.45,-1.35,-1.3,-1.25,-1.15,-1.1,-1,-.95,-.9,-.7,-.65,-.6],[-2.75,-3.53,-3.2,-3,-2.95,-2.85,-2.4,-2.35,-.95,-.85,-.65,-.6],[-2.57,-3.53],[-2.5,-3.53],[-2.45,-3.53],[-2.25,-3.53],[-2.2,-3.53],[-2.15,-3.53]];

// ---------- d (cont'd) Lower Right ----------
const dLowerRightSpots = [[-1.77,1.98],[-.5,.22],[-1.2,-.87],[-1.03,-.95],[-3.5,-1.42],[-3.2,-1.45],[-1.45,-1.38],[-1.33,-1.4],[-1.33,-1.65],[-1,-1.95],[-3.05,-2.03],[-3.2,-2.48],[-3.2,-2.58],[-3.2,-2.67],[-2.83,-2.48],[-2.27,-2.53],[-3.5,-2.65],[-2.3,-2.85],[-3.5,-2.85],[-3.5,-2.95],[-3.2,-2.97],[-1.6,-2.97],[-1,-2.97],[-.9,-2.97],[-2.95,-3.15],[-2.25,-3.15],[-1.78,-3.15],[-1.7,-3.15],[-1.6,-3.15],[-1.48,-3.15],[-.7,-3.15]];
const dLowerRightLines = [[-3.45,-2.8,-2.75,-2.7,-2.6,-2.55,-2.45,-2.15,-2.1,-1.85,-1.7,-1.45,-1,-.7,-.6,-.45,-.4,-.35,-.15]];
const dLowerRightDense = [[-3.45,-3.5,-3.2,-3.05,-3,-2.9,-2.85,-2.5,-2.4,-1.8,-1.75,-1.6,-1.4,-1.35,-.65,-.4],[-3.15,-3.5,-3.2,-3.05],[-2.97,-2.83],[-2.75,-3.5],[-2.72,-3.5],[-1.6,-3.5]];

const xTitle = 'freq in wash (log₁₀ %)';
const yTitle = 'freq in lung (log₁₀ %)';

type Arrow = { x: number; y: number; dx: number; dy: number; len: number; wid: number };
type Note = { x: number; y: number; text: string };
type PanelCfg = {
  title: string; left: number; right: number; top: number; bottom: number;
  titleX: number; titleY: number; xOff: number; xShift: number; yOff: number;
  spots: number[][]; lines: number[][]; dense: number[][]; arrow?: Arrow; notes?: Note[];
};

const panels: PanelCfg[] = [
  { title: 'Upper Left', left: 266.3, right: 434.3, top: 16, bottom: 184.7, titleX: 345, titleY: 7.5, xOff: 34.6, xShift: 0.7, yOff: 28, spots: bUpperLeftSpots, lines: bUpperLeftLines, dense: bUpperLeftDense },
  { title: 'Lower Left', left: 478.7, right: 647, top: 16, bottom: 184.7, titleX: 557, titleY: 7.5, xOff: 34.6, xShift: 3.8, yOff: 25.5, spots: bLowerLeftSpots, lines: bLowerLeftLines, dense: bLowerLeftDense },
  { title: 'Upper Right', left: 36, right: 204.7, top: 290.3, bottom: 458.3, titleX: 114, titleY: 272.3, xOff: 33, xShift: 0, yOff: 28.7, spots: bUpperRightSpots, lines: bUpperRightLines, dense: bUpperRightDense,
    arrow: { x: -2.51, y: 1.83, dx: -10.6, dy: -3.7, len: 12, wid: 8 }, notes: [{ x: -2.08, y: 1.66, text: '86.2%' }, { x: -2.08, y: 1.21, text: 'ATAGCTCCGA' }] },
  { title: 'Middle Right', left: 266.3, right: 434.3, top: 290, bottom: 458.3, titleX: 342.7, titleY: 272, xOff: 33, xShift: 0.7, yOff: 28, spots: bMiddleRightSpots, lines: bMiddleRightLines, dense: bMiddleRightDense },
  { title: 'Lower Right', left: 478.7, right: 647, top: 290, bottom: 458.3, titleX: 556, titleY: 272, xOff: 33, xShift: 3.8, yOff: 25.5, spots: bLowerRightSpots, lines: bLowerRightLines, dense: bLowerRightDense,
    arrow: { x: -.42, y: 1.74, dx: -10.5, dy: -3.5, len: 12, wid: 8 }, notes: [{ x: .01, y: 1.58, text: '59.0%' }, { x: .01, y: 1.14, text: 'GGTGGCCAGC' }] },
  { title: 'Middle Right', left: 36, right: 203.7, top: 545, bottom: 713, titleX: 120, titleY: 525, xOff: 31, xShift: 0.7, yOff: 28.7, spots: cMiddleRightSpots, lines: cMiddleRightLines, dense: cMiddleRightDense,
    arrow: { x: -.33, y: 1.76, dx: 5, dy: -8.3, len: 10.5, wid: 8.5 }, notes: [{ x: -.77, y: 1.2, text: '94.7%' }, { x: -.77, y: .755, text: 'AACAGCTCAC' }] },
  { title: 'Upper Left', left: 266.3, right: 434, top: 545, bottom: 712.7, titleX: 345, titleY: 525, xOff: 30, xShift: 0.7, yOff: 28, spots: dUpperLeftSpots, lines: dUpperLeftLines, dense: dUpperLeftDense },
  { title: 'Lower Left', left: 478.7, right: 647, top: 545, bottom: 712.7, titleX: 557, titleY: 525, xOff: 30, xShift: 3.8, yOff: 25.5, spots: dLowerLeftSpots, lines: dLowerLeftLines, dense: dLowerLeftDense,
    arrow: { x: -1.6, y: 1.57, dx: -10, dy: 0, len: 10, wid: 9 }, notes: [{ x: -1.18, y: 1.81, text: '35.1%' }, { x: -1.18, y: 1.39, text: 'GTCCTCGCCC' }] },
  { title: 'Upper Right', left: 36.7, right: 204.3, top: 803.3, bottom: 971.7, titleX: 106, titleY: 784, xOff: 33.3, xShift: 0.5, yOff: 28.7, spots: dUpperRightSpots, lines: dUpperRightLines, dense: dUpperRightDense,
    arrow: { x: -1.76, y: 1.76, dx: 0, dy: -10, len: 10, wid: 9 }, notes: [{ x: -1.94, y: 1.09, text: '98.2% GTCCTCGCCC' }] },
  { title: 'Middle Right', left: 266.3, right: 434, top: 803.3, bottom: 971.7, titleX: 351, titleY: 784, xOff: 33.3, xShift: 0.7, yOff: 28, spots: dMiddleRightSpots, lines: dMiddleRightLines, dense: dMiddleRightDense,
    arrow: { x: -1.84, y: 1.76, dx: 4.7, dy: -7.8, len: 10.5, wid: 8.5 }, notes: [{ x: -2.3, y: 1.2, text: '87.9% GTCCTCGCCC' }] },
  { title: 'Lower Right', left: 478.7, right: 646.7, top: 803.3, bottom: 971.7, titleX: 546, titleY: 784, xOff: 33.3, xShift: 5, yOff: 25.5, spots: dLowerRightSpots, lines: dLowerRightLines, dense: dLowerRightDense,
    arrow: { x: -1.85, y: 1.78, dx: 2.2, dy: -9.3, len: 10.5, wid: 8.5 }, notes: [{ x: -2.09, y: 1.2, text: '96.8% GTCCTCGCCC' }] },
];

const headings = [
  { text: 'a', x: 1, y: 9 },
  { text: 'b', x: 232, y: 8 },
  { text: 'b (cont’d)', x: 1, y: 245.7 },
  { text: 'c', x: 1, y: 516.7 },
  { text: 'd', x: 231, y: 518 },
  { text: 'd (cont’d)', x: 1, y: 765.7 },
];

const fromPairs = (p: number[][]) => p.map(([x, y]) => ({ x, y }));
const fromRows = (rows: number[][]) => rows.flatMap(([y, ...xs]) => xs.map((x) => ({ x, y })));

const AXIS = '#666';
const TEXT = '#1c1c1c';
const TICK_SIZE = 12;
const LABEL_SIZE = 13;
const TITLE_SIZE = 14.5;

// Shifts an axis' title drawing by a few pixels, leaving the axis itself in place.
function nudgeTitle(scale: any, dx: number, dy: number) {
  const draw = scale.drawTitle.bind(scale);
  scale.drawTitle = () => {
    scale.ctx.save();
    scale.ctx.translate(dx, dy);
    draw();
    scale.ctx.restore();
  };
}

function ScatterPanel({ cfg }: { cfg: PanelCfg }) {
  const ref = useRef<HTMLCanvasElement>(null);
  const cLeft = Math.round(cfg.left - 45);
  const yW = cfg.left - cLeft;
  const W = Math.ceil(cfg.right - cLeft + 30);
  const cTop = Math.round(cfg.titleY - TITLE_SIZE / 2);
  const H = Math.ceil(cfg.bottom - cTop + 44);
  const xH = cTop + H - cfg.bottom;

  useEffect(() => {
    const annotate = {
      id: 'annotate',
      afterLayout(chart: any) {
        chart.titleBlock.left = cfg.titleX - cLeft - 100;
        chart.titleBlock.right = cfg.titleX - cLeft + 100;
        nudgeTitle(chart.scales.x, cfg.xShift, 0);
      },
      afterDatasetsDraw(chart: any) {
        const { ctx, scales } = chart;
        const a = cfg.arrow;
        if (a) {
          const px = scales.x.getPixelForValue(a.x);
          const py = scales.y.getPixelForValue(a.y);
          const n = Math.hypot(a.dx, a.dy);
          const ux = a.dx / n;
          const uy = a.dy / n;
          ctx.save();
          ctx.fillStyle = '#ee1c3a';
          ctx.beginPath();
          ctx.moveTo(px, py);
          ctx.lineTo(px - ux * a.len - uy * a.wid / 2, py - uy * a.len + ux * a.wid / 2);
          ctx.lineTo(px - ux * a.len * 0.8, py - uy * a.len * 0.8);
          ctx.lineTo(px - ux * a.len + uy * a.wid / 2, py - uy * a.len - ux * a.wid / 2);
          ctx.closePath();
          ctx.fill();
          ctx.restore();
        }
        (cfg.notes || []).forEach((t) => {
          ctx.save();
          ctx.font = `10.3px ${FONT}`;
          ctx.fillStyle = TEXT;
          ctx.textBaseline = 'middle';
          ctx.fillText(t.text, scales.x.getPixelForValue(t.x), scales.y.getPixelForValue(t.y));
          ctx.restore();
        });
      },
    };
    const ticks = { color: TEXT, font: { size: TICK_SIZE }, stepSize: 1, maxRotation: 0, autoSkip: false, callback: (v: any) => String(v) };
    const grid = { drawOnChartArea: false, drawTicks: true, tickLength: 4, color: AXIS };
    const chart = new Chart(ref.current as HTMLCanvasElement, {
      type: 'scatter',
      data: {
        datasets: [
          { label: 'Lineages', data: [...fromPairs(cfg.spots), ...fromRows(cfg.lines)], pointRadius: 1.85, pointBorderWidth: 0, backgroundColor: 'rgba(0,0,0,0.5)', clip: false },
          { label: 'Overlapping lineages', data: fromRows(cfg.dense), pointRadius: 1.85, pointBorderWidth: 0, backgroundColor: 'rgba(0,0,0,0.93)', clip: false },
        ],
      },
      options: {
        responsive: false,
        animation: false,
        events: [],
        layout: { padding: { left: 0, top: 0, bottom: 0, right: W - (cfg.right - cLeft) } },
        plugins: {
          legend: { display: false },
          tooltip: { enabled: false },
          title: {
            display: true,
            text: cfg.title,
            color: TEXT,
            font: { size: TITLE_SIZE, weight: 'normal', lineHeight: 1 },
            padding: { top: 0, bottom: cfg.top - cTop - TITLE_SIZE },
          },
        },
        scales: {
          x: {
            type: 'linear', min: -4, max: 2,
            ticks: { ...ticks, padding: 2 },
            grid,
            border: { color: AXIS, width: 1 },
            title: { display: true, text: xTitle, color: TEXT, font: { size: LABEL_SIZE, lineHeight: 1 }, padding: { top: 0, bottom: xH - cfg.xOff - LABEL_SIZE / 2 } },
            afterFit: (s: any) => { s.height = xH; s.paddingLeft = 0; s.paddingRight = 0; },
          },
          y: {
            type: 'linear', min: -4, max: 2,
            ticks: { ...ticks, padding: 3 },
            grid,
            border: { color: AXIS, width: 1 },
            title: { display: true, text: yTitle, color: TEXT, font: { size: LABEL_SIZE, lineHeight: 1 }, padding: { top: yW - cfg.yOff - LABEL_SIZE / 2, bottom: 0 } },
            afterFit: (s: any) => { s.width = yW; s.paddingTop = 0; s.paddingBottom = 0; },
          },
        },
      } as any,
      plugins: [annotate],
    });
    return () => chart.destroy();
  }, []);

  return <canvas ref={ref} width={W} height={H} style={{ position: 'absolute', left: cLeft, top: cTop, width: W, height: H }} />;
}

function BarPanel() {
  const ref = useRef<HTMLCanvasElement>(null);
  useEffect(() => {
    const bracket = {
      id: 'bracket',
      afterLayout(chart: any) {
        chart.legend.left = 165;
        chart.legend.top = 6;
        nudgeTitle(chart.scales.y, 0, 5);
      },
      afterDraw(chart: any) {
        const { ctx, scales } = chart;
        ctx.save();
        ctx.strokeStyle = '#333';
        ctx.lineWidth = 1;
        ctx.beginPath();
        ctx.moveTo(scales.x.getPixelForValue(-0.23), 206.5);
        ctx.lineTo(scales.x.getPixelForValue(5.31), 206.5);
        ctx.stroke();
        ctx.restore();
      },
    };
    const chart = new Chart(ref.current as HTMLCanvasElement, {
      type: 'bar',
      data: {
        datasets: [
          { label: 'Ferret 34', data: ferret34.map((y, i) => ({ x: i, y })), backgroundColor: '#1a44bb', borderColor: '#86a0e2', borderWidth: { left: 0.8, right: 0.8, top: 0.8, bottom: 0 } },
          { label: 'Ferret 36', data: ferret36.map((y, i) => ({ x: i, y })), backgroundColor: '#12307f', borderColor: '#7c90c6', borderWidth: { left: 0.8, right: 0.8, top: 0.8, bottom: 0 } },
        ],
      },
      options: {
        responsive: false,
        animation: false,
        events: [],
        layout: { padding: { top: 5, right: 5, left: 0, bottom: 0 } },
        datasets: { bar: { categoryPercentage: 0.8, barPercentage: 1 } },
        plugins: {
          tooltip: { enabled: false },
          legend: {
            position: 'chartArea',
            align: 'start',
            padding: 0,
            labels: { boxWidth: 8, boxHeight: 8, padding: 6.5, color: TEXT, font: { size: 10.3 } },
          },
        },
        scales: {
          x: {
            type: 'linear', offset: false, min: -0.577, max: 5.5,
            afterBuildTicks: (s: any) => { s.ticks = tissueLabels.map((_, i) => ({ value: i })); },
            ticks: { color: TEXT, font: { size: 14 }, padding: 4, maxRotation: 0, autoSkip: false, callback: (v: any) => tissueLabels[v] ?? '' },
            grid: { display: false, drawTicks: false },
            border: { color: '#222', width: 1 },
            title: { display: true, text: 'Lung tissue', color: TEXT, font: { size: 13, lineHeight: 1 }, padding: { top: 0, bottom: 8 } },
            afterFit: (s: any) => { s.height = 46.5; s.paddingLeft = 0; s.paddingRight = 0; },
          },
          y: {
            type: 'linear', min: 0, max: 31.3,
            afterBuildTicks: (s: any) => { s.ticks = [0, 10, 20, 30].map((value) => ({ value })); },
            ticks: { color: TEXT, font: { size: 13 }, padding: 2, callback: (v: any) => String(v) },
            grid: { drawOnChartArea: false, tickLength: 4, color: AXIS },
            border: { color: AXIS, width: 1 },
            title: { display: true, text: '% lineages also in wash', color: TEXT, font: { size: 13, lineHeight: 1 }, padding: { top: 0, bottom: 0 } },
            afterFit: (s: any) => { s.width = 33; s.paddingTop = 0; s.paddingBottom = 0; },
          },
        },
      } as any,
      plugins: [bracket],
    });
    return () => chart.destroy();
  }, []);
  return <canvas ref={ref} width={235} height={232} style={{ position: 'absolute', left: 0, top: 0, width: 235, height: 232 }} />;
}

export default function App() {
  return (
    <div style={{ position: 'absolute', left: 0, top: 0, width: 668, height: 1014, overflow: 'hidden', background: '#fff', fontFamily: FONT }}>
      <BarPanel />
      {panels.map((p, i) => <ScatterPanel key={i} cfg={p} />)}
      {headings.map((h) => (
        <div key={h.text + h.y} style={{ position: 'absolute', left: h.x, top: h.y - 10, height: 20, lineHeight: '20px', fontWeight: 700, fontSize: 16, color: '#111', whiteSpace: 'nowrap' }}>{h.text}</div>
      ))}
    </div>
  );
}
